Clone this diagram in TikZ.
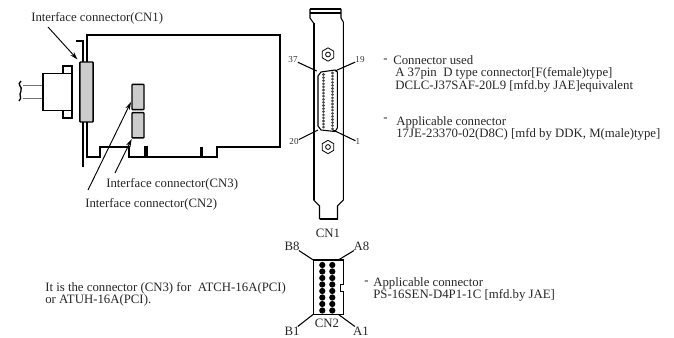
\documentclass[tikz,border=0pt]{standalone}
\usepackage{fontspec}
\setmainfont{Liberation Serif}
\usetikzlibrary{shapes.geometric,arrows.meta}
\tikzset{
  label text/.style={anchor=west,inner sep=0pt,font=\fontsize{9.6}{10}\selectfont,text=black!85},
  pin text/.style={inner sep=0pt,font=\fontsize{6.8}{7}\selectfont,text=black!80},
  name text/.style={inner sep=0pt,font=\fontsize{9.6}{10}\selectfont,text=black!85},
  heavy/.style={line width=1.5pt,line join=miter},
  thin line/.style={line width=.8pt},
  gray box/.style={draw,line width=1.1pt,fill=black!20,rounded corners=.6pt,inner sep=0pt},
  white box/.style={draw,line width=1.1pt,fill=white,inner sep=0pt},
  hex nut/.style={draw,line width=.6pt,regular polygon,regular polygon sides=6,shape border rotate=30,minimum size=10pt,inner sep=0pt},
  hole/.style={circle,draw,line width=.6pt,minimum size=3.6pt,inner sep=0pt},
  pin/.style={circle,fill=black,minimum size=4.7pt,inner sep=0pt},
  small pin/.style={circle,fill=black!70,minimum size=2.3pt,inner sep=0pt},
  pointer/.style={line width=.7pt,-{Stealth[length=6pt,width=3.6pt]}},
}
\begin{document}
\begin{tikzpicture}[x=.75pt,y=-.75pt]
  \useasboundingbox (0,0) rectangle (674,338);

  % board
  \draw[heavy] (86.7,156.7) -- (86.7,35) -- (280,35) -- (280,147) -- (217,147) -- (217,156.7)
    -- (129,156.7) -- (129,146.7) -- (100,146.7) -- (100,156.7) -- cycle;
  \draw[line width=2.6pt] (146,146) -- (146,156);
  \draw[line width=2.6pt] (201.7,147) -- (201.7,156);
  \draw[heavy] (76,41) -- (83,41) -- (83,167);

  % plug and cable
  \draw[thin line,black!55] (23,85.5) -- (43,85.5);
  \draw[thin line,black!55] (23,98.5) -- (43,98.5);
  \draw[line width=1pt] (21,81) .. controls (16,85) and (23,86) .. (21,91) .. controls (18,96) and (23,97) .. (19,101);
  \node[white box,minimum width=6.75pt,minimum height=6pt] (earup) at (67.5,70) {};
  \node[white box,minimum width=6.75pt,minimum height=6pt] (eardown) at (67.5,114) {};
  \node[white box,minimum width=22pt,minimum height=27.75pt] (plug) at (57.5,92) {};

  % connectors on the board
  \node[gray box,minimum width=10pt,minimum height=45pt] (cnone) at (86.5,92) {};
  \node[gray box,minimum width=9pt,minimum height=19pt] (cnthree) at (138,97) {};
  \node[gray box,minimum width=9pt,minimum height=19pt] (cntwo) at (138,125.3) {};

  \coordinate (cnoneend) at (77.5,59.5);
  \coordinate (cnthreeend) at (131,102);
  \coordinate (cntwoend) at (131.7,139);
  \node[label text] (cnonelabel) at (31,18) {Interface connector(CN1)};
  \node[label text] (cnthreelabel) at (106,184) {Interface connector(CN3)};
  \node[label text] (cntwolabel) at (85,204) {Interface connector(CN2)};
  \coordinate (cnonefrom) at (48,27);
  \coordinate (cnthreefrom) at (115,173);
  \coordinate (cntwofrom) at (88,190);
  \draw[pointer] (cnonefrom) -- (cnoneend);
  \draw[pointer] (cnthreefrom) -- (cntwoend);
  \draw[pointer] (cntwofrom) -- (cnthreeend);

  % bracket, front view
  \draw[line width=1.3pt] (310,9) -- (341,9);
  \draw[thin line] (310,13) -- (341,13);
  \draw[thin line] (310,9) -- (310,18) -- (313.5,23);
  \draw[thin line] (341,9) -- (341,18) -- (343.3,22) -- (343.3,200) -- (337.5,206) -- (337.5,219.5);
  \draw[heavy] (313.5,23) -- (313.5,200);
  \draw[thin line] (313.5,200) -- (319.5,206) -- (319.5,219.5);
  \draw[heavy] (319.5,219.5) -- (337.5,219.5);

  \node[hex nut] (nutup) at (328,54.5) {};
  \node[hole] at (nutup) {};
  \node[hex nut] (nutdown) at (328,147) {};
  \node[hole] at (nutdown) {};

  % d-sub shell
  \draw[thin line] (318,76) -- (321,72) -- (335,70) -- (337.3,72) -- (337.3,128) -- (335,131.5) -- (321,130) -- (318,126) -- cycle;
  \foreach \i in {0,...,18}
    \node[small pin] (a\i) at (332.5,{73+\i*3.1}) {};
  \foreach \i in {0,...,17}
    \node[small pin] (b\i) at (323.5,{74.5+\i*3.1}) {};

  \coordinate (p37) at (316.7,71);
  \coordinate (p19) at (335,71);
  \coordinate (p20) at (318,130);
  \coordinate (p1) at (333,130);
  \node[pin text] (l37) at (293,60) {37};
  \node[pin text] (l19) at (360,60) {19};
  \node[pin text] (l20) at (294,142) {20};
  \node[pin text] (l1) at (358,142) {1};
  \draw[thin line] (l37) -- (p37);
  \draw[thin line] (l19) -- (p19);
  \draw[thin line] (l20) -- (p20);
  \draw[thin line] (l1) -- (p1);
  \node[name text] (cnonename) at (328,233) {CN1};

  % texts, right side
  \node[label text] (dashone) at (383,61) {-};
  \node[label text] (usedone) at (393,60.5) {Connector used};
  \node[label text] (usedtwo) at (395,73.5) {A 37pin\ \ D type connector[F(female)type]};
  \node[label text] (usedthree) at (395,86) {DCLC-J37SAF-20L9 [mfd.by JAE]equivalent};
  \node[label text] (dashtwo) at (383,120) {-};
  \node[label text] (appone) at (396,122) {Applicable connector};
  \node[label text] (apptwo) at (396,134.5) {17JE-23370-02(D8C) [mfd by DDK, M(male)type]};

  % cn2 connector
  \draw[line width=1pt] (313.3,260) -- (343.3,260) -- (343.3,284.3) -- (340.7,284.3) -- (340.7,291.7) -- (343.3,291.7) -- (343.3,314.3) -- (313.3,314.3) -- cycle;
  \foreach \i in {0,...,7} {
    \node[pin] (pb\i) at (322.3,{265+\i*6.5}) {};
    \node[pin] (pa\i) at (332.3,{265+\i*6.5}) {};
  }
  \coordinate (cornerba) at (313.3,260);
  \coordinate (cornerab) at (338.3,260);
  \coordinate (cornerbb) at (313.3,314.3);
  \coordinate (corneraa) at (338.3,314.3);
  \node[name text] (lb8) at (292,246) {B8};
  \node[name text] (la8) at (361.5,246) {A8};
  \node[name text] (lb1) at (292,331) {B1};
  \node[name text] (la1) at (361,331) {A1};
  \node[name text] (cntwoname) at (327,323.5) {CN2};
  \draw[thin line] (lb8) -- (cornerba);
  \draw[thin line] (la8) -- (cornerab);
  \draw[thin line] (lb1) -- (cornerbb);
  \draw[thin line] (la1) -- (corneraa);

  % texts, bottom
  \node[label text] (dashthree) at (364,283) {-};
  \node[label text] (psone) at (373,283) {Applicable connector};
  \node[label text] (pstwo) at (373,295.5) {PS-16SEN-D4P1-1C [mfd.by JAE]};
  \node[label text] (noteone) at (45,288) {It is the connector (CN3) for\ \ ATCH-16A(PCI)};
  \node[label text] (notetwo) at (45,300.5) {or ATUH-16A(PCI).};
\end{tikzpicture}
\end{document}
